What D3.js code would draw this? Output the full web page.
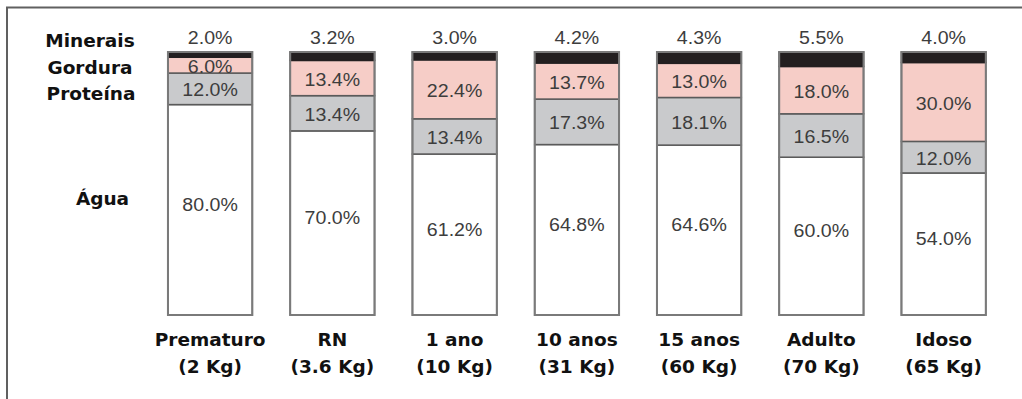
<!DOCTYPE html>
<html>
<head>
<meta charset="utf-8">
<script src="https://cdn.jsdelivr.net/npm/d3@7"></script>
<style>
  html, body { margin: 0; padding: 0; background: #fff; }
  svg { display: block; }
</style>
</head>
<body>
<svg id="chart" width="1022" height="399"></svg>
<script>
// Age groups (two-line labels)
const groups = ["Prematuro", "RN", "1 ano", "10 anos", "15 anos", "Adulto", "Idoso"];
const weights = ["(2 Kg)", "(3.6 Kg)", "(10 Kg)", "(31 Kg)", "(60 Kg)", "(70 Kg)", "(65 Kg)"];

// Body composition, % of body weight
const agua     = [80.0, 70.0, 61.2, 64.8, 64.6, 60.0, 54.0];
const proteina = [12.0, 13.4, 13.4, 17.3, 18.1, 16.5, 12.0];
const gordura  = [6.0, 13.4, 22.4, 13.7, 13.0, 18.0, 30.0];
const minerais = [2.0, 3.2, 3.0, 4.2, 4.3, 5.5, 4.0];

// Stack order from bottom to top
const componentNames = ["Água", "Proteína", "Gordura", "Minerais"];
const componentValues = [agua, proteina, gordura, minerais];
const componentColors = ["#ffffff", "#c9cacc", "#f6cdc7", "#231f20"];

const svg = d3.select("#chart");

// Frame (left and top edges)
svg.append("path")
  .attr("d", "M7,399 L7,7.5 L1022,7.5")
  .attr("fill", "none")
  .attr("stroke", "#606060")
  .attr("stroke-width", 2);

const x = d3.scaleBand()
  .domain(groups)
  .range([149, 1004.75])
  .paddingInner(0.31)
  .paddingOuter(0.155);

const y = d3.scaleLinear().domain([0, 100]).range([315, 52]);

// Build stacked rows
const rows = groups.map((g, i) => {
  const r = { group: g };
  componentNames.forEach((c, k) => { r[c] = componentValues[k][i]; });
  return r;
});
const stacked = d3.stack().keys(componentNames)(rows);

const valueFont = "'Liberation Sans', Arial, Helvetica, sans-serif";
const boldFont = "'DejaVu Sans', Verdana, sans-serif";

stacked.forEach((layer, k) => {
  const gLayer = svg.append("g");
  gLayer.selectAll("rect")
    .data(layer)
    .join("rect")
    .attr("x", d => x(d.data.group))
    .attr("width", x.bandwidth())
    .attr("y", d => y(d[1]))
    .attr("height", d => y(d[0]) - y(d[1]))
    .attr("fill", componentColors[k])
    .attr("stroke", k === 3 ? "#231f20" : "#5a5a5a")
    .attr("stroke-width", 1.5);
});

// Bar side outlines
svg.append("g").selectAll("rect")
  .data(groups)
  .join("rect")
  .attr("x", d => x(d))
  .attr("width", x.bandwidth())
  .attr("y", y(100))
  .attr("height", y(0) - y(100))
  .attr("fill", "none")
  .attr("stroke", "#7a7a7a")
  .attr("stroke-width", 2);

// Value labels
function valueText(sel) {
  return sel
    .attr("font-family", valueFont)
    .attr("font-size", 17.5)
    .attr("fill", "#3d3d3d")
    .attr("text-anchor", "middle");
}

stacked.forEach((layer, k) => {
  const isTop = k === 3;
  const offset = k === 0 ? -5 : 1.5;
  valueText(svg.append("g").selectAll("text").data(layer).join("text"))
    .attr("transform", d => {
      const cx = x(d.data.group) + x.bandwidth() / 2;
      const cy = isTop ? y(100) - 8 : (y(d[0]) + y(d[1])) / 2 + offset;
      return `translate(${cx},${cy}) scale(1.12,1)`;
    })
    .attr("dominant-baseline", isTop ? "alphabetic" : "central")
    .text(d => d3.format(".1f")(d[1] - d[0]) + "%");
});

// Category labels
const cat = svg.append("g").selectAll("text")
  .data(groups)
  .join("text")
  .attr("x", d => x(d) + x.bandwidth() / 2)
  .attr("y", 346)
  .attr("text-anchor", "middle")
  .attr("font-family", boldFont)
  .attr("font-weight", "bold")
  .attr("font-size", 18.5)
  .attr("fill", "#111");
cat.append("tspan").text(d => d);
cat.append("tspan")
  .attr("x", d => x(d) + x.bandwidth() / 2)
  .attr("dy", 26.5)
  .text((d, i) => weights[i]);

// Component legend on the left
const legendPos = [
  { name: "Minerais", x: 90, y: 47 },
  { name: "Gordura", x: 90, y: 73.5 },
  { name: "Proteína", x: 91, y: 100 },
  { name: "Água", x: 102.5, y: 205 }
];
svg.append("g").selectAll("text")
  .data(legendPos)
  .join("text")
  .attr("x", d => d.x)
  .attr("y", d => d.y)
  .attr("text-anchor", "middle")
  .attr("font-family", boldFont)
  .attr("font-weight", "bold")
  .attr("font-size", 18.5)
  .attr("fill", "#111")
  .text(d => d.name);
</script>
</body>
</html>
